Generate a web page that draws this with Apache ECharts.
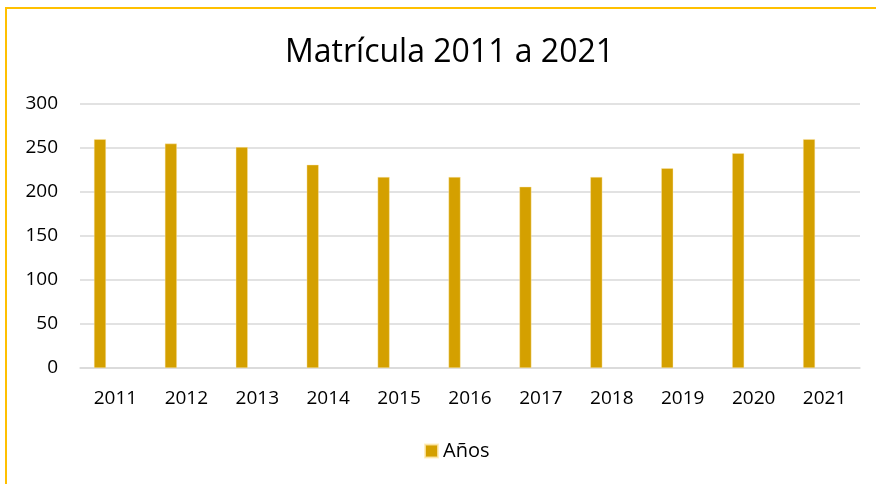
<!DOCTYPE html>
<html>
<head>
<meta charset="utf-8">
<script src="https://cdn.jsdelivr.net/npm/echarts@6/dist/echarts.min.js"></script>
<style>
  html, body { margin: 0; padding: 0; background: #fff; }
  #frame {
    position: absolute; left: 5px; top: 7px; width: 871px; height: 477px;
    border-left: 2px solid #FFC000; border-top: 2px solid #FFC000;
  }
  #main { position: absolute; left: 0; top: 0; width: 876px; height: 484px; }
</style>
</head>
<body>
<div id="frame"></div>
<div id="main"></div>
<script>
  // datos
  var years = ['2011', '2012', '2013', '2014', '2015', '2016', '2017', '2018', '2019', '2020', '2021'];
  var matricula = [260, 255, 251, 231, 217, 217, 206, 217, 227, 244, 260];
  var emptySeries = [];   // segunda serie vacia (desplaza las barras a la izquierda)

  var chart = echarts.init(document.getElementById('main'));
  var option = {
    backgroundColor: 'transparent',
    textStyle: { fontFamily: 'Open Sans' },
    title: {
      text: 'Matrícula 2011 a 2021',
      left: 280,
      top: 32,
      textStyle: { fontSize: 32, fontWeight: 'normal', color: '#000', fontFamily: 'Open Sans' }
    },
    legend: {
      data: ['Años'],
      bottom: 18,
      left: 419,
      icon: 'rect',
      itemWidth: 13,
      itemHeight: 13,
      itemGap: 5,
      textStyle: { fontSize: 20, color: '#000', fontFamily: 'Open Sans' }
    },
    grid: { left: 80, right: 16, top: 104, bottom: 116, containLabel: false },
    xAxis: {
      type: 'category',
      data: years,
      axisTick: { show: false },
      axisLine: { lineStyle: { color: '#D9D9D9', width: 1.5 } },
      axisLabel: { fontSize: 19, color: '#000', margin: 21, fontFamily: 'Open Sans' }
    },
    yAxis: {
      type: 'value',
      min: 0,
      max: 300,
      interval: 50,
      axisLine: { show: false },
      axisTick: { show: false },
      axisLabel: { fontSize: 19, color: '#000', margin: 22, fontFamily: 'Open Sans' },
      splitLine: { lineStyle: { color: '#D9D9D9', width: 1.5 } }
    },
    series: [
      {
        name: 'Años',
        type: 'bar',
        data: matricula,
        barWidth: 12,
        barGap: '158%',
        itemStyle: { color: '#D4A000', borderColor: 'rgba(255,235,180,0.8)', borderWidth: 0.5 }
      },
      {
        name: 'vacio',
        type: 'bar',
        data: emptySeries,
        barWidth: 12,
        itemStyle: { color: 'transparent' }
      }
    ]
  };
  chart.setOption(option);
</script>
</body>
</html>
